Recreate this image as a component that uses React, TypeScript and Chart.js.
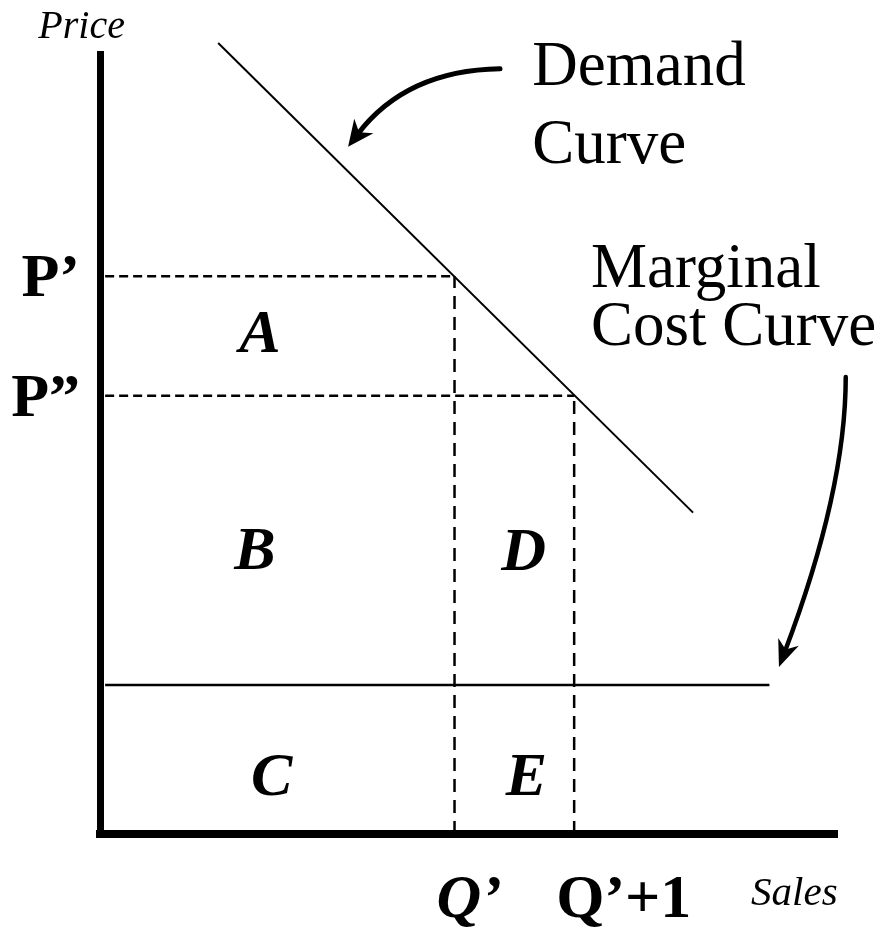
import React, { useEffect, useRef } from 'react';
import { Chart, registerables } from 'chart.js';

Chart.register(...registerables);

const FONT = '"Liberation Serif", "Times New Roman", serif';

// ---- data (axis units: Sales 0..10, Price 0..10) ----
const qTickValues = [4.83, 6.46];
const qTickLabels = ['Q\u2019', 'Q\u2019+1'];
const pTickValues = [7.15, 5.62];
const pTickLabels = ['P\u2019', 'P\u201D'];
const mcPrice = 1.91;
const mcSales = [0.07, 9.12];
const demandSales = [1.61, 8.08];
const demandPrice = [10.14, 4.12];
const dashStartSales = 0.07;

// ---- annotations (positions in axis units) ----
const textNotes = [
  { text: 'Price', x: -0.84, y: 10.2, font: 'italic 40px' },
  { text: 'Sales', x: 8.87, y: -0.91, font: 'italic 41px' },
  { text: 'Demand', x: 5.89, y: 9.6, font: '63px' },
  { text: 'Curve', x: 5.89, y: 8.6, font: '63px' },
  { text: 'Marginal', x: 6.69, y: 7.01, font: '63px' },
  { text: 'Cost Curve', x: 6.69, y: 6.27, font: '63px' },
];
const regionNotes = [
  { text: 'A', x: 2.18, y: 6.18 },
  { text: 'B', x: 2.11, y: 3.4 },
  { text: 'C', x: 2.34, y: 0.5 },
  { text: 'D', x: 5.77, y: 3.38 },
  { text: 'E', x: 5.81, y: 0.5 },
];
const arrowNotes = [
  { from: [5.45, 9.81], ctrl: [4.17, 9.79], to: [3.38, 8.81], width: 5, head: 26, half: 12 },
  { from: [10.16, 5.86], ctrl: [10.16, 4.4], to: [9.25, 2.14], width: 4.5, head: 27, half: 11 },
];

const annotationPlugin = {
  id: 'notes',
  afterDraw(chart: any) {
    const { ctx } = chart;
    const xs = chart.scales.x;
    const ys = chart.scales.y;
    const px = (v: number) => xs.getPixelForValue(v);
    const py = (v: number) => ys.getPixelForValue(v);
    ctx.save();
    ctx.fillStyle = '#000';
    ctx.strokeStyle = '#000';
    ctx.textBaseline = 'alphabetic';
    ctx.textAlign = 'left';
    for (const n of textNotes) {
      ctx.font = `${n.font} ${FONT}`;
      ctx.fillText(n.text, px(n.x), py(n.y));
    }
    ctx.textAlign = 'center';
    ctx.font = `italic bold 62px ${FONT}`;
    for (const n of regionNotes) {
      ctx.fillText(n.text, px(n.x), py(n.y));
    }
    for (const a of arrowNotes) {
      const x0 = px(a.from[0]), y0 = py(a.from[1]);
      const cx = px(a.ctrl[0]), cy = py(a.ctrl[1]);
      const x1 = px(a.to[0]), y1 = py(a.to[1]);
      let dx = x1 - cx, dy = y1 - cy;
      const len = Math.hypot(dx, dy);
      dx /= len; dy /= len;
      const nx = -dy, ny = dx;
      const ex = x1 - dx * a.head * 0.6, ey = y1 - dy * a.head * 0.6;
      ctx.lineWidth = a.width;
      ctx.lineCap = 'round';
      ctx.beginPath();
      ctx.moveTo(x0, y0);
      ctx.quadraticCurveTo(cx, cy, ex, ey);
      ctx.stroke();
      const bx = x1 - dx * a.head, by = y1 - dy * a.head;
      ctx.beginPath();
      ctx.moveTo(x1, y1);
      ctx.lineTo(bx + nx * a.half, by + ny * a.half);
      ctx.lineTo(x1 - dx * a.head * 0.7, y1 - dy * a.head * 0.7);
      ctx.lineTo(bx - nx * a.half, by - ny * a.half);
      ctx.closePath();
      ctx.fill();
    }
    ctx.restore();
  },
};

function seg(x0: number, y0: number, x1: number, y1: number) {
  return [{ x: x0, y: y0 }, { x: x1, y: y1 }];
}

export default function App() {
  const ref = useRef<HTMLCanvasElement>(null);
  useEffect(() => {
    const hDash = [9, 5];
    const vDash = [13, 8];
    const base = {
      borderColor: '#000',
      pointRadius: 0,
      tension: 0,
      fill: false,
      showLine: true,
    };
    const chart = new Chart(ref.current!, {
      type: 'scatter',
      data: {
        datasets: [
          { ...base, label: 'Demand', data: seg(demandSales[0], demandPrice[0], demandSales[1], demandPrice[1]), borderWidth: 2, clip: false },
          { ...base, label: 'MC', data: seg(mcSales[0], mcPrice, mcSales[1], mcPrice), borderWidth: 2.5 },
          { ...base, label: "P'", data: seg(dashStartSales, pTickValues[0], qTickValues[0], pTickValues[0]), borderWidth: 2.5, borderDash: hDash },
          { ...base, label: "P''", data: seg(dashStartSales, pTickValues[1], qTickValues[1], pTickValues[1]), borderWidth: 2.5, borderDash: hDash },
          { ...base, label: "Q'", data: seg(qTickValues[0], 0, qTickValues[0], pTickValues[0]), borderWidth: 2.5, borderDash: vDash },
          { ...base, label: "Q'+1", data: seg(qTickValues[1], 0, qTickValues[1], pTickValues[1]), borderWidth: 2.5, borderDash: vDash },
        ] as any,
      },
      options: {
        animation: false,
        responsive: false,
        events: [],
        layout: { padding: { top: 54, right: 47, left: 0, bottom: 0 }, autoPadding: false } as any,
        plugins: { legend: { display: false }, tooltip: { enabled: false } },
        scales: {
          x: {
            type: 'linear',
            min: 0,
            max: 10,
            grid: { display: false, drawTicks: false, lineWidth: 8 },
            border: { display: true, color: '#000', width: 8 },
            afterBuildTicks: (s: any) => { s.ticks = qTickValues.map((v) => ({ value: v })); },
            afterFit: (s: any) => { s.height = 98; s.paddingLeft = 0; s.paddingRight = 0; },
            ticks: {
              autoSkip: false,
              maxRotation: 0,
              minRotation: 0,
              align: 'start',
              labelOffset: -18,
              padding: 30,
              color: '#000',
              font: (c: any) => ({ family: FONT, size: 62, weight: 'bold', style: c.index === 0 ? 'italic' : 'normal' }),
              callback: (_v: any, i: number) => qTickLabels[i],
            },
          },
          y: {
            type: 'linear',
            min: 0,
            max: 10,
            grid: { display: false, drawTicks: false, lineWidth: 7 },
            border: { display: true, color: '#000', width: 7 },
            afterBuildTicks: (s: any) => { s.ticks = pTickValues.map((v) => ({ value: v })); },
            afterFit: (s: any) => { s.width = 100; s.paddingTop = 0; s.paddingBottom = 0; },
            ticks: {
              autoSkip: false,
              padding: 20,
              labelOffset: 4,
              color: '#000',
              font: { family: FONT, size: 62, weight: 'bold' },
              callback: (_v: any, i: number) => pTickLabels[i],
            },
          },
        } as any,
      },
      plugins: [annotationPlugin],
    });
    return () => chart.destroy();
  }, []);
  return (
    <div style={{ position: 'absolute', left: 0, top: 0, width: 881, height: 932, background: '#fff' }}>
      <canvas ref={ref} width={881} height={932} style={{ display: 'block' }} />
    </div>
  );
}
